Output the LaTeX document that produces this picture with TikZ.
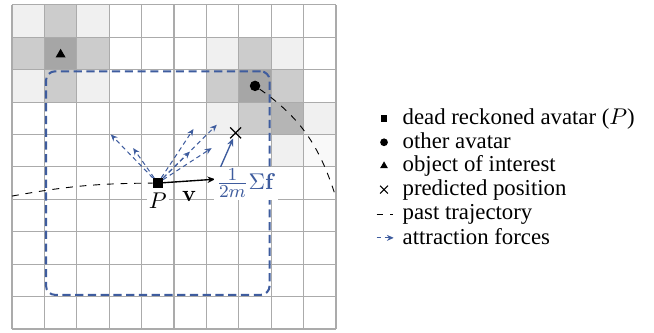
\documentclass[tikz,border=0pt]{standalone}
\usepackage[no-math]{fontspec}
\setmainfont{Liberation Serif}
\usepackage{amsmath}
\usetikzlibrary{arrows.meta,positioning,shapes.geometric,shapes.misc}
\definecolor{zoneblue}{RGB}{62,92,158}
\definecolor{cellV}{gray}{0.975}
\definecolor{cellL}{gray}{0.94}
\definecolor{cellM}{gray}{0.80}
\definecolor{cellK}{gray}{0.71}
\definecolor{cellD}{gray}{0.65}
\newcommand{\fracpart}[1]{\mbox{\footnotesize$#1$}}

\begin{document}
\begin{tikzpicture}[x=0.5cm, y=0.5cm, every node/.style={font=\normalsize}, gridline/.style={draw=black!33,line width=0.5pt}, zone/.style={draw=zoneblue,line width=0.9pt,dash pattern=on 3.6pt off 2pt,rounded corners=4pt,inner sep=0pt,minimum size=3.45cm}, pmark/.style={rectangle,fill=black,inner sep=0pt,minimum size=4.2pt}, othmark/.style={circle,fill=black,inner sep=0pt,minimum size=4.6pt}, objmark/.style={regular polygon,regular polygon sides=3,fill=black,inner sep=0pt,minimum size=5pt}, predmark/.style={cross out,draw=black,line width=0.6pt,inner sep=0pt,minimum size=4.2pt}, traj/.style={black,line width=0.4pt,dashed}, force/.style={-{Stealth[length=3pt,width=2.6pt]},zoneblue,line width=0.45pt,dash pattern=on 2pt off 1.5pt}, vel/.style={-{Stealth[length=3.4pt,width=2.8pt]},black,line width=0.6pt}, sumf/.style={-{Stealth[length=3.4pt,width=2.8pt]},zoneblue,line width=0.6pt}, lbl/.style={fill=white,inner sep=1pt}, legtext/.style={anchor=base west,inner sep=0pt}]
  \useasboundingbox (-0.37,-0.12) rectangle (19.81,10.15);
  % shaded cells around the object and the other avatar
  \foreach \cx/\cy/\shade in {0/9/cellL,1/9/cellM,2/9/cellL,0/8/cellM,1/8/cellD,2/8/cellM,6/8/cellL,7/8/cellM,8/8/cellL,0/7/cellL,1/7/cellM,2/7/cellL,6/7/cellM,7/7/cellD,8/7/cellM,6/6/cellL,7/6/cellM,8/6/cellK,9/6/cellL,8/5/cellL,9/5/cellV}
    \fill[\shade] (\cx,\cy) rectangle ++(1,1);
  \draw[gridline,step=1] (0,0) grid (10,10);
  \node[zone] (zone) at (4.5,4.5) {};
  \node[objmark] (obj) at (1.5,8.47) {};
  \node[othmark] (other) at (7.5,7.5) {};
  \node[pmark] (P) at (4.5,4.5) {};
  \node[predmark] (pred) at (6.9,6.05) {};
  \node[lbl,below=1pt of P] (Plabel) {$P$};
  % trajectories
  \coordinate (past) at (0,4.1);
  \coordinate (otrail) at (9.97,4.14);
  \draw[traj] (past) to[bend left=5] (P);
  \draw[traj] (other) to[out=-35,in=108] (otrail);
  % attraction forces
  \coordinate (fa) at (3.05,6.0);
  \coordinate (fb) at (3.74,5.58);
  \coordinate (fc) at (5.6,6.17);
  \coordinate (fd) at (6.32,6.3);
  \coordinate (fe) at (5.49,5.47);
  \coordinate (ff) at (6.16,5.58);
  \draw[force] (P) -- (fa);
  \draw[force] (P) -- (fb);
  \draw[force] (P) -- (fc);
  \draw[force] (P) -- (fd);
  \draw[force] (P) -- (fe);
  \draw[force] (P) -- (ff);
  % velocity and force step
  \coordinate (vend) at (6.27,4.62);
  \draw[vel] (P) -- node[below=1pt] (vlabel) {$\mathbf{v}$} (vend);
  \draw[sumf] (vend) -- (pred);
  \node[lbl,anchor=west,text=zoneblue] (flabel) at (6.22,4.5) {$\frac{\fracpart{1}}{\fracpart{2m}}\Sigma\mathbf{f}$};
  % legend
  \node[legtext] (lg1) at (12.04,6.30) {dead reckoned avatar ($P$)};
  \node[legtext] (lg2) at (12.04,5.56) {other avatar};
  \node[legtext] (lg3) at (12.04,4.85) {object of interest};
  \node[legtext] (lg4) at (12.04,4.11) {predicted position};
  \node[legtext] (lg5) at (12.04,3.37) {past trajectory};
  \node[legtext] (lg6) at (12.04,2.62) {attraction forces};
  \node[pmark,minimum size=3pt] (k1) at (11.48,6.5) {};
  \node[othmark,minimum size=3.4pt] (k2) at (11.48,5.76) {};
  \node[objmark,minimum size=4pt] (k3) at (11.48,5.03) {};
  \node[predmark,minimum size=3pt,line width=0.45pt] (k4) at (11.48,4.3) {};
  \coordinate (k5a) at (11.25,3.54);
  \coordinate (k5b) at (11.75,3.54);
  \draw[traj] (k5a) -- (k5b);
  \coordinate (k6a) at (11.25,2.81);
  \coordinate (k6b) at (11.78,2.81);
  \draw[force] (k6a) -- (k6b);
\end{tikzpicture}
\end{document}
